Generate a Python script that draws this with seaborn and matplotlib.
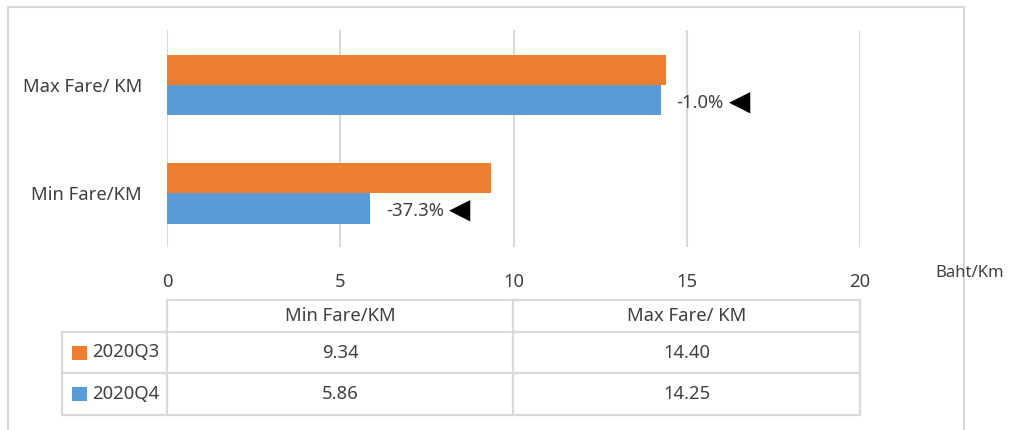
import matplotlib
matplotlib.use("Agg")
import matplotlib.pyplot as plt
import seaborn as sns
import pandas as pd
from matplotlib.lines import Line2D
from matplotlib.patches import Rectangle

# ---- data ----
categories = ["Min Fare/KM", "Max Fare/ KM"]
quarters = ["2020Q3", "2020Q4"]
q3_values = [9.34, 14.40]
q4_values = [5.86, 14.25]
x_ticks = [0, 5, 10, 15, 20]
unit_label = "Baht/Km"

colors = {"2020Q3": "#ED7D31", "2020Q4": "#5B9BD5"}
grid_c = "#D9D9D9"
text_c = "#404040"
FS = 13.3

sns.set_theme(style="white")
plt.rcParams["font.family"] = ["Noto Sans", "DejaVu Sans"]

rows = []
for q, vals in zip(quarters, [q3_values, q4_values]):
    for c, v in zip(categories, vals):
        rows.append({"quarter": q, "category": c, "value": v})
df = pd.DataFrame(rows)

W, H = 1010, 430
fig = plt.figure(figsize=(W / 100, H / 100), dpi=100)

def fx(px):
    return px / W

def fy(py):
    return 1 - py / H

# outer border
fig.add_artist(Rectangle((fx(8), fy(440)), fx(964) - fx(8), fy(7) - fy(440),
                         transform=fig.transFigure, fill=False,
                         edgecolor=grid_c, lw=1.5))

ax = fig.add_axes([fx(167), fy(247), fx(860) - fx(167), fy(30) - fy(247)])
plot_order = categories[::-1]
sns.barplot(data=df, y="category", x="value", hue="quarter",
            order=plot_order, hue_order=quarters, palette=colors,
            orient="h", width=0.556, dodge=True, ax=ax, legend=False,
            saturation=1, linewidth=0)

ax.set_xlim(x_ticks[0], x_ticks[-1])
ax.set_ylim(1.495, -0.509)
ax.set_xticks(x_ticks)
ax.set_xticklabels([str(t) for t in x_ticks])
ax.xaxis.grid(True, color=grid_c, lw=1.5)
ax.set_axisbelow(True)
for s in ax.spines.values():
    s.set_visible(False)
ax.tick_params(axis="x", length=0, pad=19, labelsize=FS, labelcolor=text_c)
ax.tick_params(axis="y", length=0, pad=18, labelsize=FS, labelcolor=text_c)
ax.set_xlabel("")
ax.set_ylabel("")

# change annotations on Q4 bars
q4_bars = ax.containers[1]
for bar, cat in zip(q4_bars, plot_order):
    i = categories.index(cat)
    pct = (q4_values[i] - q3_values[i]) / q3_values[i] * 100
    yc = bar.get_y() + bar.get_height() / 2
    t = ax.annotate(f"{pct:.1f}%", xy=(bar.get_width(), yc),
                    xytext=(11.5, -2), textcoords="offset points",
                    ha="left", va="center", fontsize=FS, color=text_c)
    ax.annotate("\u25C0", xy=(1, 0.5), xycoords=t, xytext=(3.5, 1),
                textcoords="offset points", ha="left", va="center",
                fontsize=20, color="black", family=["DejaVu Sans"])

fig.text(fx(970), fy(273), unit_label, ha="center", va="center",
         fontsize=12, color=text_c)

# ---- data table ----
col_x = [167, 513, 860]
row_y = [300, 332, 373, 415]
left_x = 62
lw = 1.6

def hline(y, x0, x1):
    fig.add_artist(Line2D([fx(x0), fx(x1)], [fy(y), fy(y)],
                          transform=fig.transFigure, color=grid_c, lw=lw))

def vline(x, y0, y1):
    fig.add_artist(Line2D([fx(x), fx(x)], [fy(y0), fy(y1)],
                          transform=fig.transFigure, color=grid_c, lw=lw))

hline(row_y[0], col_x[0], col_x[-1])
for y in row_y[1:]:
    hline(y, left_x, col_x[-1])
for x in col_x:
    vline(x, row_y[0], row_y[-1])
vline(left_x, row_y[1], row_y[-1])

for j, c in enumerate(categories):
    xc = (col_x[j] + col_x[j + 1]) / 2
    fig.text(fx(xc), fy((row_y[0] + row_y[1]) / 2), c, ha="center",
             va="center", fontsize=FS, color=text_c)

for r, (q, vals) in enumerate(zip(quarters, [q3_values, q4_values])):
    yc = (row_y[r + 1] + row_y[r + 2]) / 2
    fig.add_artist(Rectangle((fx(72), fy(yc + 7)), fx(87) - fx(72),
                             fy(yc - 7) - fy(yc + 7),
                             transform=fig.transFigure,
                             facecolor=colors[q], edgecolor="none"))
    fig.text(fx(92), fy(yc), q, ha="left", va="center", fontsize=FS,
             color=text_c)
    for j, v in enumerate(vals):
        xc = (col_x[j] + col_x[j + 1]) / 2
        fig.text(fx(xc), fy(yc), f"{v:.2f}", ha="center", va="center",
                 fontsize=FS, color=text_c)

fig.savefig("out.png", dpi=100, facecolor="white")
